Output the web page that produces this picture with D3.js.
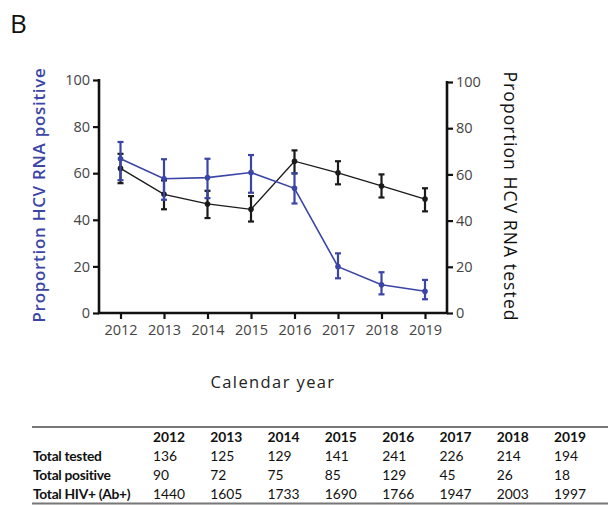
<!DOCTYPE html>
<html>
<head>
<meta charset="utf-8">
<script src="https://cdn.jsdelivr.net/npm/d3@7"></script>
<style>
  html, body { margin: 0; padding: 0; background: #fff; }
  svg { display: block; }
</style>
</head>
<body>
<svg id="chart" width="608" height="506"></svg>
<script>
// Calendar years shown on the x axis and in the table
const years = [2012, 2013, 2014, 2015, 2016, 2017, 2018, 2019];

// Proportion HCV RNA positive (%), with 95% CI bounds (left axis, blue)
const positive      = [66.2, 57.6, 58.1, 60.3, 53.5, 19.9, 12.1, 9.3];
const positiveLow   = [57.0, 48.6, 49.3, 51.6, 47.0, 14.9, 8.0, 5.9];
const positiveHigh  = [73.4, 66.0, 66.2, 67.8, 60.0, 25.6, 17.5, 14.2];

// Proportion HCV RNA tested (%), with 95% CI bounds (right axis, black)
const tested        = [62.6, 51.4, 47.2, 44.9, 65.7, 60.7, 55.0, 49.3];
const testedLow     = [56.2, 44.9, 41.1, 39.6, 60.4, 55.7, 50.0, 44.0];
const testedHigh    = [68.9, 57.4, 52.9, 50.6, 70.4, 65.7, 60.0, 54.0];

// Axis ticks
const yTicks = [0, 20, 40, 60, 80, 100];

// Table rows
const rowLabels = ["Total tested", "Total positive", "Total HIV+ (Ab+)"];
const totalTested   = [136, 125, 129, 141, 241, 226, 214, 194];
const totalPositive = [90, 72, 75, 85, 129, 45, 26, 18];
const totalHIV      = [1440, 1605, 1733, 1690, 1766, 1947, 2003, 1997];

const BLUE = "#3b45a6";
const INK = "#111";
const TICKTXT = "#444";
const FONT = "'Open Sans', 'Noto Sans', sans-serif";

const svg = d3.select("#chart");

// Panel letter
svg.append("text")
  .attr("x", 10).attr("y", 33)
  .attr("font-family", FONT).attr("font-size", 26)
  .attr("fill", "#111").text("B");

// Plot frame
const plotLeft = 99, plotRight = 447, plotTop = 80, plotBottom = 313;

const x = d3.scalePoint().domain(years).range([120.5, 425]);
const yL = d3.scaleLinear().domain([0, 100]).range([plotBottom, plotTop]);
const yR = d3.scaleLinear().domain([0, 100]).range([plotBottom, plotTop + 2]);

// Left axis
const gL = svg.append("g").attr("transform", `translate(${plotLeft},0)`)
  .call(d3.axisLeft(yL).tickValues(yTicks).tickSize(6).tickPadding(3));
// Right axis
const gR = svg.append("g").attr("transform", `translate(${plotRight},0)`)
  .call(d3.axisRight(yR).tickValues(yTicks).tickSize(6).tickPadding(3));
// Bottom axis
const gX = svg.append("g").attr("transform", `translate(0,${plotBottom})`)
  .call(d3.axisBottom(x).tickSize(6).tickPadding(6).tickFormat(d3.format("d")));

[gL, gR, gX].forEach(g => {
  g.select(".domain").remove();
  g.selectAll(".tick line").attr("stroke", INK).attr("stroke-width", 2.2);
  g.selectAll(".tick text")
    .attr("font-family", FONT).attr("font-size", 14.5).attr("fill", TICKTXT);
});

// Axis lines
svg.append("line").attr("x1", plotLeft).attr("x2", plotLeft).attr("y1", plotTop - 1).attr("y2", plotBottom + 1)
  .attr("stroke", INK).attr("stroke-width", 2.6);
svg.append("line").attr("x1", plotRight).attr("x2", plotRight).attr("y1", plotTop + 1).attr("y2", plotBottom + 1)
  .attr("stroke", INK).attr("stroke-width", 2.6);
svg.append("line").attr("x1", plotLeft - 1).attr("x2", plotRight + 1).attr("y1", plotBottom).attr("y2", plotBottom)
  .attr("stroke", INK).attr("stroke-width", 2.6);

// Axis titles
svg.append("text")
  .attr("transform", `translate(45,195) rotate(-90)`)
  .attr("text-anchor", "middle")
  .attr("font-family", FONT).attr("font-size", 17).attr("font-weight", 600)
  .attr("letter-spacing", 0.7)
  .attr("fill", BLUE).text("Proportion HCV RNA positive");

svg.append("text")
  .attr("transform", `translate(504,196.5) rotate(90)`)
  .attr("text-anchor", "middle")
  .attr("font-family", FONT).attr("font-size", 17.5)
  .attr("letter-spacing", 1.1)
  .attr("fill", INK).text("Proportion HCV RNA tested");

svg.append("text")
  .attr("x", 273).attr("y", 388)
  .attr("text-anchor", "middle")
  .attr("font-family", FONT).attr("font-size", 16.5)
  .attr("letter-spacing", 1.4)
  .attr("fill", "#222").text("Calendar year");

// Series drawing
function drawSeries(vals, lo, hi, yScale, color, lineWidth, cls) {
  const g = svg.append("g").attr("class", cls);
  const pts = years.map((yr, i) => ({ yr, v: vals[i], lo: lo[i], hi: hi[i] }));
  g.append("path")
    .datum(pts)
    .attr("fill", "none").attr("stroke", color).attr("stroke-width", lineWidth)
    .attr("d", d3.line().x(d => x(d.yr)).y(d => yScale(d.v)));
  const eb = g.selectAll(".eb").data(pts).join("g").attr("class", "eb");
  eb.append("line")
    .attr("x1", d => x(d.yr)).attr("x2", d => x(d.yr))
    .attr("y1", d => yScale(d.lo)).attr("y2", d => yScale(d.hi))
    .attr("stroke", color).attr("stroke-width", 2.2);
  ["lo", "hi"].forEach(k => {
    eb.append("line")
      .attr("x1", d => x(d.yr) - 3).attr("x2", d => x(d.yr) + 3)
      .attr("y1", d => yScale(d[k])).attr("y2", d => yScale(d[k]))
      .attr("stroke", color).attr("stroke-width", 2.2);
  });
  eb.append("circle")
    .attr("cx", d => x(d.yr)).attr("cy", d => yScale(d.v))
    .attr("r", 2.8).attr("fill", color);
}

drawSeries(tested, testedLow, testedHigh, yR, "#1a1a1a", 1.3, "tested");
drawSeries(positive, positiveLow, positiveHigh, yL, BLUE, 1.6, "positive");

// Summary table
const colX = d3.scalePoint().domain(years).range([153, 554]);
const tFont = "Lato, 'Open Sans', sans-serif";
const tSize = 13.8;
const rowY = [461, 480, 499];
const tableRows = [totalTested, totalPositive, totalHIV];

svg.append("line").attr("x1", 32).attr("x2", 608).attr("y1", 427).attr("y2", 427)
  .attr("stroke", "#777").attr("stroke-width", 2);
svg.append("line").attr("x1", 32).attr("x2", 608).attr("y1", 503.5).attr("y2", 503.5)
  .attr("stroke", "#777").attr("stroke-width", 2);

svg.append("g").selectAll("text").data(years).join("text")
  .attr("x", d => colX(d)).attr("y", 442)
  .attr("font-family", tFont).attr("font-size", tSize).attr("font-weight", 700)
  .attr("fill", "#111").text(d => d);

rowLabels.forEach((lab, r) => {
  svg.append("text")
    .attr("x", 33).attr("y", rowY[r])
    .attr("font-family", tFont).attr("font-size", tSize).attr("font-weight", 700)
    .attr("letter-spacing", -0.3)
    .attr("fill", "#111").text(lab);
  svg.append("g").selectAll("text").data(tableRows[r]).join("text")
    .attr("x", (d, i) => colX(years[i])).attr("y", rowY[r])
    .attr("font-family", tFont).attr("font-size", tSize)
    .attr("fill", "#111").text(d => d);
});
</script>
</body>
</html>
